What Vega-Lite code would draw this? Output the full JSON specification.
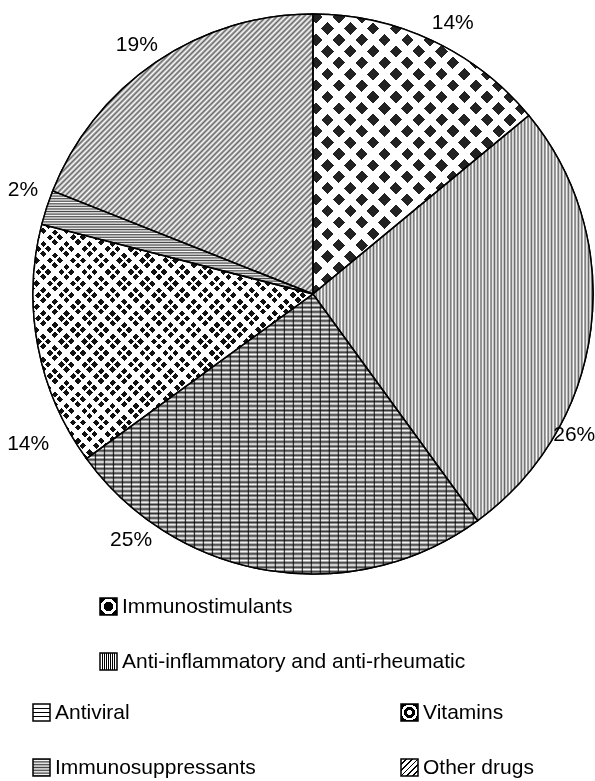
{
"$schema":"https://vega.github.io/schema/vega-lite/v6.json",
"width":564,"height":588,
"autosize":{"type":"none"},
"padding":{"left":31,"top":0,"right":0,"bottom":193},
"background":"white",
"config":{"view":{"stroke":null},"legend":{"symbolType":"square","symbolSize":289,"symbolStrokeColor":"#000","symbolStrokeWidth":1.5,"labelFont":"Liberation Sans","labelFontSize":21,"labelColor":"#000","labelOffset":3,"rowPadding":32,"labelLimit":600,"padding":0}},
"data":{"values":[
{"category":"Immunostimulants","share":0.14},
{"category":"Anti-inflammatory and anti-rheumatic","share":0.26},
{"category":"Antiviral","share":0.25},
{"category":"Vitamins","share":0.14},
{"category":"Immunosuppressants","share":0.02},
{"category":"Other drugs","share":0.19}
]},
"transform":[{"stack":"share","groupby":[],"as":["s0","s1"]}],
"layer":[
{"transform":[{"filter":{"field":"category","oneOf":["Immunostimulants","Anti-inflammatory and anti-rheumatic"]}}],
"mark":{"type":"arc","outerRadius":280,"stroke":"#000","strokeWidth":1.5},
"encoding":{"theta":{"field":"s0","type":"quantitative","stack":null,"scale":{"domain":[0,1]}},"theta2":{"field":"s1"},
"fill":{"field":"category","type":"nominal","scale":{"domain":["Immunostimulants","Anti-inflammatory and anti-rheumatic"],"range":[
{"expr":"{gradient:'radial',x1:0.5,y1:0.5,r1:0,x2:0.5,y2:0.5,r2:0.5,stops:[{offset:0,color:'#000'},{offset:0.58,color:'#000'},{offset:0.58,color:'#fff'},{offset:0.9,color:'#fff'},{offset:0.9,color:'#000'},{offset:1,color:'#000'}]}"},
{"expr":"{gradient:'linear',x1:0,y1:0,x2:1,y2:0,stops:[{offset:0,color:'#fff'},{offset:0.095,color:'#fff'},{offset:0.095,color:'#000'},{offset:0.155,color:'#000'},{offset:0.155,color:'#fff'},{offset:0.22,color:'#fff'},{offset:0.22,color:'#000'},{offset:0.28,color:'#000'},{offset:0.28,color:'#fff'},{offset:0.345,color:'#fff'},{offset:0.345,color:'#000'},{offset:0.405,color:'#000'},{offset:0.405,color:'#fff'},{offset:0.47,color:'#fff'},{offset:0.47,color:'#000'},{offset:0.53,color:'#000'},{offset:0.53,color:'#fff'},{offset:0.595,color:'#fff'},{offset:0.595,color:'#000'},{offset:0.655,color:'#000'},{offset:0.655,color:'#fff'},{offset:0.72,color:'#fff'},{offset:0.72,color:'#000'},{offset:0.78,color:'#000'},{offset:0.78,color:'#fff'},{offset:0.845,color:'#fff'},{offset:0.845,color:'#000'},{offset:0.905,color:'#000'},{offset:0.905,color:'#fff'},{offset:1,color:'#fff'}]}"}
]},"legend":{"title":null,"orient":"none","legendX":67,"legendY":596,"direction":"vertical"}}}},
{"transform":[{"filter":{"field":"category","oneOf":["Antiviral","Vitamins","Immunosuppressants","Other drugs"]}}],
"mark":{"type":"arc","outerRadius":280,"stroke":"#000","strokeWidth":1.5},
"encoding":{"theta":{"field":"s0","type":"quantitative","stack":null,"scale":{"domain":[0,1]}},"theta2":{"field":"s1"},
"fill":{"field":"category","type":"nominal","scale":{"domain":["Antiviral","Immunosuppressants","Vitamins","Other drugs"],"range":[
{"expr":"{gradient:'linear',x1:0,y1:0,x2:0,y2:1,stops:[{offset:0,color:'#fff'},{offset:0.215,color:'#fff'},{offset:0.215,color:'#000'},{offset:0.285,color:'#000'},{offset:0.285,color:'#fff'},{offset:0.465,color:'#fff'},{offset:0.465,color:'#000'},{offset:0.535,color:'#000'},{offset:0.535,color:'#fff'},{offset:0.715,color:'#fff'},{offset:0.715,color:'#000'},{offset:0.785,color:'#000'},{offset:0.785,color:'#fff'},{offset:1,color:'#fff'}]}"},
{"expr":"{gradient:'linear',x1:0,y1:0,x2:0,y2:1,stops:[{offset:0,color:'#444'},{offset:0.0833,color:'#fff'},{offset:0.1667,color:'#444'},{offset:0.25,color:'#fff'},{offset:0.3333,color:'#444'},{offset:0.4167,color:'#fff'},{offset:0.5,color:'#444'},{offset:0.5833,color:'#fff'},{offset:0.6667,color:'#444'},{offset:0.75,color:'#fff'},{offset:0.8333,color:'#444'},{offset:0.9167,color:'#fff'},{offset:1,color:'#444'}]}"},
{"expr":"{gradient:'radial',x1:0.5,y1:0.5,r1:0,x2:0.5,y2:0.5,r2:0.5,stops:[{offset:0,color:'#fff'},{offset:0.3,color:'#fff'},{offset:0.3,color:'#000'},{offset:0.65,color:'#000'},{offset:0.65,color:'#fff'},{offset:0.92,color:'#fff'},{offset:0.92,color:'#000'},{offset:1,color:'#000'}]}"},
{"expr":"{gradient:'linear',x1:0,y1:0,x2:1,y2:1,stops:[{offset:0,color:'#fff'},{offset:0.1417,color:'#fff'},{offset:0.1417,color:'#000'},{offset:0.1917,color:'#000'},{offset:0.1917,color:'#fff'},{offset:0.3083,color:'#fff'},{offset:0.3083,color:'#000'},{offset:0.3583,color:'#000'},{offset:0.3583,color:'#fff'},{offset:0.475,color:'#fff'},{offset:0.475,color:'#000'},{offset:0.525,color:'#000'},{offset:0.525,color:'#fff'},{offset:0.6417,color:'#fff'},{offset:0.6417,color:'#000'},{offset:0.6917,color:'#000'},{offset:0.6917,color:'#fff'},{offset:0.8083,color:'#fff'},{offset:0.8083,color:'#000'},{offset:0.8583,color:'#000'},{offset:0.8583,color:'#fff'},{offset:1,color:'#fff'}]}"}
]},"legend":{"title":null,"orient":"none","legendX":0,"legendY":702,"columns":2,"columnPadding":142}}}},
{"transform":[{"filter":"datum.category==='Anti-inflammatory and anti-rheumatic'"}],
"mark":{"type":"arc","outerRadius":280,"fill":{"gradient":"linear","x1":0,"y1":0,"x2":1,"y2":0,"stops":[{"offset":0,"color":"#666"},{"offset":0.006,"color":"#fff"},{"offset":0.012,"color":"#666"},{"offset":0.018,"color":"#fff"},{"offset":0.024,"color":"#666"},{"offset":0.03,"color":"#fff"},{"offset":0.036,"color":"#666"},{"offset":0.042,"color":"#fff"},{"offset":0.048,"color":"#666"},{"offset":0.054,"color":"#fff"},{"offset":0.06,"color":"#666"},{"offset":0.066,"color":"#fff"},{"offset":0.072,"color":"#666"},{"offset":0.078,"color":"#fff"},{"offset":0.084,"color":"#666"},{"offset":0.09,"color":"#fff"},{"offset":0.096,"color":"#666"},{"offset":0.102,"color":"#fff"},{"offset":0.108,"color":"#666"},{"offset":0.114,"color":"#fff"},{"offset":0.12,"color":"#666"},{"offset":0.126,"color":"#fff"},{"offset":0.132,"color":"#666"},{"offset":0.138,"color":"#fff"},{"offset":0.144,"color":"#666"},{"offset":0.15,"color":"#fff"},{"offset":0.156,"color":"#666"},{"offset":0.162,"color":"#fff"},{"offset":0.168,"color":"#666"},{"offset":0.174,"color":"#fff"},{"offset":0.18,"color":"#666"},{"offset":0.186,"color":"#fff"},{"offset":0.192,"color":"#666"},{"offset":0.198,"color":"#fff"},{"offset":0.204,"color":"#666"},{"offset":0.21,"color":"#fff"},{"offset":0.216,"color":"#666"},{"offset":0.222,"color":"#fff"},{"offset":0.228,"color":"#666"},{"offset":0.234,"color":"#fff"},{"offset":0.24,"color":"#666"},{"offset":0.246,"color":"#fff"},{"offset":0.252,"color":"#666"},{"offset":0.258,"color":"#fff"},{"offset":0.264,"color":"#666"},{"offset":0.27,"color":"#fff"},{"offset":0.276,"color":"#666"},{"offset":0.282,"color":"#fff"},{"offset":0.288,"color":"#666"},{"offset":0.294,"color":"#fff"},{"offset":0.3,"color":"#666"},{"offset":0.306,"color":"#fff"},{"offset":0.312,"color":"#666"},{"offset":0.318,"color":"#fff"},{"offset":0.324,"color":"#666"},{"offset":0.33,"color":"#fff"},{"offset":0.336,"color":"#666"},{"offset":0.342,"color":"#fff"},{"offset":0.348,"color":"#666"},{"offset":0.354,"color":"#fff"},{"offset":0.36,"color":"#666"},{"offset":0.366,"color":"#fff"},{"offset":0.372,"color":"#666"},{"offset":0.378,"color":"#fff"},{"offset":0.384,"color":"#666"},{"offset":0.39,"color":"#fff"},{"offset":0.396,"color":"#666"},{"offset":0.402,"color":"#fff"},{"offset":0.408,"color":"#666"},{"offset":0.414,"color":"#fff"},{"offset":0.42,"color":"#666"},{"offset":0.426,"color":"#fff"},{"offset":0.432,"color":"#666"},{"offset":0.438,"color":"#fff"},{"offset":0.444,"color":"#666"},{"offset":0.45,"color":"#fff"},{"offset":0.456,"color":"#666"},{"offset":0.462,"color":"#fff"},{"offset":0.468,"color":"#666"},{"offset":0.474,"color":"#fff"},{"offset":0.48,"color":"#666"},{"offset":0.486,"color":"#fff"},{"offset":0.492,"color":"#666"},{"offset":0.498,"color":"#fff"},{"offset":0.504,"color":"#666"},{"offset":0.51,"color":"#fff"},{"offset":0.516,"color":"#666"},{"offset":0.522,"color":"#fff"},{"offset":0.528,"color":"#666"},{"offset":0.534,"color":"#fff"},{"offset":0.54,"color":"#666"},{"offset":0.546,"color":"#fff"},{"offset":0.552,"color":"#666"},{"offset":0.558,"color":"#fff"},{"offset":0.564,"color":"#666"},{"offset":0.57,"color":"#fff"},{"offset":0.576,"color":"#666"},{"offset":0.582,"color":"#fff"},{"offset":0.588,"color":"#666"},{"offset":0.594,"color":"#fff"},{"offset":0.6,"color":"#666"},{"offset":0.606,"color":"#fff"},{"offset":0.612,"color":"#666"},{"offset":0.618,"color":"#fff"},{"offset":0.624,"color":"#666"},{"offset":0.63,"color":"#fff"},{"offset":0.636,"color":"#666"},{"offset":0.642,"color":"#fff"},{"offset":0.648,"color":"#666"},{"offset":0.654,"color":"#fff"},{"offset":0.66,"color":"#666"},{"offset":0.666,"color":"#fff"},{"offset":0.672,"color":"#666"},{"offset":0.678,"color":"#fff"},{"offset":0.684,"color":"#666"},{"offset":0.69,"color":"#fff"},{"offset":0.696,"color":"#666"},{"offset":0.702,"color":"#fff"},{"offset":0.708,"color":"#666"},{"offset":0.714,"color":"#fff"},{"offset":0.72,"color":"#666"},{"offset":0.726,"color":"#fff"},{"offset":0.732,"color":"#666"},{"offset":0.738,"color":"#fff"},{"offset":0.744,"color":"#666"},{"offset":0.75,"color":"#fff"},{"offset":0.756,"color":"#666"},{"offset":0.762,"color":"#fff"},{"offset":0.768,"color":"#666"},{"offset":0.774,"color":"#fff"},{"offset":0.78,"color":"#666"},{"offset":0.786,"color":"#fff"},{"offset":0.792,"color":"#666"},{"offset":0.798,"color":"#fff"},{"offset":0.804,"color":"#666"},{"offset":0.81,"color":"#fff"},{"offset":0.816,"color":"#666"},{"offset":0.822,"color":"#fff"},{"offset":0.828,"color":"#666"},{"offset":0.834,"color":"#fff"},{"offset":0.84,"color":"#666"},{"offset":0.846,"color":"#fff"},{"offset":0.852,"color":"#666"},{"offset":0.858,"color":"#fff"},{"offset":0.864,"color":"#666"},{"offset":0.87,"color":"#fff"},{"offset":0.876,"color":"#666"},{"offset":0.882,"color":"#fff"},{"offset":0.888,"color":"#666"},{"offset":0.894,"color":"#fff"},{"offset":0.9,"color":"#666"},{"offset":0.906,"color":"#fff"},{"offset":0.912,"color":"#666"},{"offset":0.918,"color":"#fff"},{"offset":0.924,"color":"#666"},{"offset":0.93,"color":"#fff"},{"offset":0.936,"color":"#666"},{"offset":0.942,"color":"#fff"},{"offset":0.948,"color":"#666"},{"offset":0.954,"color":"#fff"},{"offset":0.96,"color":"#666"},{"offset":0.966,"color":"#fff"},{"offset":0.972,"color":"#666"},{"offset":0.978,"color":"#fff"},{"offset":0.984,"color":"#666"},{"offset":0.99,"color":"#fff"},{"offset":0.996,"color":"#666"}]}},
"encoding":{"theta":{"field":"s0","type":"quantitative","stack":null,"scale":{"domain":[0,1]}},"theta2":{"field":"s1"}}},
{"transform":[{"filter":"datum.category==='Antiviral'"}],
"mark":{"type":"arc","outerRadius":280,"fill":{"gradient":"linear","x1":0,"y1":0,"x2":0,"y2":1,"stops":[{"offset":0,"color":"#333"},{"offset":0.008,"color":"#fff"},{"offset":0.016,"color":"#333"},{"offset":0.024,"color":"#fff"},{"offset":0.032,"color":"#333"},{"offset":0.04,"color":"#fff"},{"offset":0.048,"color":"#333"},{"offset":0.056,"color":"#fff"},{"offset":0.064,"color":"#333"},{"offset":0.072,"color":"#fff"},{"offset":0.08,"color":"#333"},{"offset":0.088,"color":"#fff"},{"offset":0.096,"color":"#333"},{"offset":0.104,"color":"#fff"},{"offset":0.112,"color":"#333"},{"offset":0.12,"color":"#fff"},{"offset":0.128,"color":"#333"},{"offset":0.136,"color":"#fff"},{"offset":0.144,"color":"#333"},{"offset":0.152,"color":"#fff"},{"offset":0.16,"color":"#333"},{"offset":0.168,"color":"#fff"},{"offset":0.176,"color":"#333"},{"offset":0.184,"color":"#fff"},{"offset":0.192,"color":"#333"},{"offset":0.2,"color":"#fff"},{"offset":0.208,"color":"#333"},{"offset":0.216,"color":"#fff"},{"offset":0.224,"color":"#333"},{"offset":0.232,"color":"#fff"},{"offset":0.24,"color":"#333"},{"offset":0.248,"color":"#fff"},{"offset":0.256,"color":"#333"},{"offset":0.264,"color":"#fff"},{"offset":0.272,"color":"#333"},{"offset":0.28,"color":"#fff"},{"offset":0.288,"color":"#333"},{"offset":0.296,"color":"#fff"},{"offset":0.304,"color":"#333"},{"offset":0.312,"color":"#fff"},{"offset":0.32,"color":"#333"},{"offset":0.328,"color":"#fff"},{"offset":0.336,"color":"#333"},{"offset":0.344,"color":"#fff"},{"offset":0.352,"color":"#333"},{"offset":0.36,"color":"#fff"},{"offset":0.368,"color":"#333"},{"offset":0.376,"color":"#fff"},{"offset":0.384,"color":"#333"},{"offset":0.392,"color":"#fff"},{"offset":0.4,"color":"#333"},{"offset":0.408,"color":"#fff"},{"offset":0.416,"color":"#333"},{"offset":0.424,"color":"#fff"},{"offset":0.432,"color":"#333"},{"offset":0.44,"color":"#fff"},{"offset":0.448,"color":"#333"},{"offset":0.456,"color":"#fff"},{"offset":0.464,"color":"#333"},{"offset":0.472,"color":"#fff"},{"offset":0.48,"color":"#333"},{"offset":0.488,"color":"#fff"},{"offset":0.496,"color":"#333"},{"offset":0.504,"color":"#fff"},{"offset":0.512,"color":"#333"},{"offset":0.52,"color":"#fff"},{"offset":0.528,"color":"#333"},{"offset":0.536,"color":"#fff"},{"offset":0.544,"color":"#333"},{"offset":0.552,"color":"#fff"},{"offset":0.56,"color":"#333"},{"offset":0.568,"color":"#fff"},{"offset":0.576,"color":"#333"},{"offset":0.584,"color":"#fff"},{"offset":0.592,"color":"#333"},{"offset":0.6,"color":"#fff"},{"offset":0.608,"color":"#333"},{"offset":0.616,"color":"#fff"},{"offset":0.624,"color":"#333"},{"offset":0.632,"color":"#fff"},{"offset":0.64,"color":"#333"},{"offset":0.648,"color":"#fff"},{"offset":0.656,"color":"#333"},{"offset":0.664,"color":"#fff"},{"offset":0.672,"color":"#333"},{"offset":0.68,"color":"#fff"},{"offset":0.688,"color":"#333"},{"offset":0.696,"color":"#fff"},{"offset":0.704,"color":"#333"},{"offset":0.712,"color":"#fff"},{"offset":0.72,"color":"#333"},{"offset":0.728,"color":"#fff"},{"offset":0.736,"color":"#333"},{"offset":0.744,"color":"#fff"},{"offset":0.752,"color":"#333"},{"offset":0.76,"color":"#fff"},{"offset":0.768,"color":"#333"},{"offset":0.776,"color":"#fff"},{"offset":0.784,"color":"#333"},{"offset":0.792,"color":"#fff"},{"offset":0.8,"color":"#333"},{"offset":0.808,"color":"#fff"},{"offset":0.816,"color":"#333"},{"offset":0.824,"color":"#fff"},{"offset":0.832,"color":"#333"},{"offset":0.84,"color":"#fff"},{"offset":0.848,"color":"#333"},{"offset":0.856,"color":"#fff"},{"offset":0.864,"color":"#333"},{"offset":0.872,"color":"#fff"},{"offset":0.88,"color":"#333"},{"offset":0.888,"color":"#fff"},{"offset":0.896,"color":"#333"},{"offset":0.904,"color":"#fff"},{"offset":0.912,"color":"#333"},{"offset":0.92,"color":"#fff"},{"offset":0.928,"color":"#333"},{"offset":0.936,"color":"#fff"},{"offset":0.944,"color":"#333"},{"offset":0.952,"color":"#fff"},{"offset":0.96,"color":"#333"},{"offset":0.968,"color":"#fff"},{"offset":0.976,"color":"#333"},{"offset":0.984,"color":"#fff"},{"offset":0.992,"color":"#333"},{"offset":1,"color":"#fff"}]}},
"encoding":{"theta":{"field":"s0","type":"quantitative","stack":null,"scale":{"domain":[0,1]}},"theta2":{"field":"s1"}}},
{"transform":[{"filter":"datum.category==='Antiviral'"}],
"mark":{"type":"arc","outerRadius":280,"blend":"multiply","fill":{"gradient":"linear","x1":0,"y1":0,"x2":1,"y2":0,"stops":[{"offset":0,"color":"#333"},{"offset":0.003,"color":"#fff"},{"offset":0.02,"color":"#fff"},{"offset":0.023,"color":"#333"},{"offset":0.026,"color":"#fff"},{"offset":0.043,"color":"#fff"},{"offset":0.046,"color":"#333"},{"offset":0.049,"color":"#fff"},{"offset":0.066,"color":"#fff"},{"offset":0.069,"color":"#333"},{"offset":0.072,"color":"#fff"},{"offset":0.089,"color":"#fff"},{"offset":0.092,"color":"#333"},{"offset":0.095,"color":"#fff"},{"offset":0.112,"color":"#fff"},{"offset":0.115,"color":"#333"},{"offset":0.118,"color":"#fff"},{"offset":0.135,"color":"#fff"},{"offset":0.138,"color":"#333"},{"offset":0.141,"color":"#fff"},{"offset":0.158,"color":"#fff"},{"offset":0.161,"color":"#333"},{"offset":0.164,"color":"#fff"},{"offset":0.181,"color":"#fff"},{"offset":0.184,"color":"#333"},{"offset":0.187,"color":"#fff"},{"offset":0.204,"color":"#fff"},{"offset":0.207,"color":"#333"},{"offset":0.21,"color":"#fff"},{"offset":0.227,"color":"#fff"},{"offset":0.23,"color":"#333"},{"offset":0.233,"color":"#fff"},{"offset":0.25,"color":"#fff"},{"offset":0.253,"color":"#333"},{"offset":0.256,"color":"#fff"},{"offset":0.273,"color":"#fff"},{"offset":0.276,"color":"#333"},{"offset":0.279,"color":"#fff"},{"offset":0.296,"color":"#fff"},{"offset":0.299,"color":"#333"},{"offset":0.302,"color":"#fff"},{"offset":0.319,"color":"#fff"},{"offset":0.322,"color":"#333"},{"offset":0.325,"color":"#fff"},{"offset":0.342,"color":"#fff"},{"offset":0.345,"color":"#333"},{"offset":0.348,"color":"#fff"},{"offset":0.365,"color":"#fff"},{"offset":0.368,"color":"#333"},{"offset":0.371,"color":"#fff"},{"offset":0.388,"color":"#fff"},{"offset":0.391,"color":"#333"},{"offset":0.394,"color":"#fff"},{"offset":0.411,"color":"#fff"},{"offset":0.414,"color":"#333"},{"offset":0.417,"color":"#fff"},{"offset":0.434,"color":"#fff"},{"offset":0.437,"color":"#333"},{"offset":0.44,"color":"#fff"},{"offset":0.457,"color":"#fff"},{"offset":0.46,"color":"#333"},{"offset":0.463,"color":"#fff"},{"offset":0.48,"color":"#fff"},{"offset":0.483,"color":"#333"},{"offset":0.486,"color":"#fff"},{"offset":0.503,"color":"#fff"},{"offset":0.506,"color":"#333"},{"offset":0.509,"color":"#fff"},{"offset":0.526,"color":"#fff"},{"offset":0.529,"color":"#333"},{"offset":0.532,"color":"#fff"},{"offset":0.549,"color":"#fff"},{"offset":0.552,"color":"#333"},{"offset":0.555,"color":"#fff"},{"offset":0.572,"color":"#fff"},{"offset":0.575,"color":"#333"},{"offset":0.578,"color":"#fff"},{"offset":0.595,"color":"#fff"},{"offset":0.598,"color":"#333"},{"offset":0.601,"color":"#fff"},{"offset":0.618,"color":"#fff"},{"offset":0.621,"color":"#333"},{"offset":0.624,"color":"#fff"},{"offset":0.641,"color":"#fff"},{"offset":0.644,"color":"#333"},{"offset":0.647,"color":"#fff"},{"offset":0.664,"color":"#fff"},{"offset":0.667,"color":"#333"},{"offset":0.67,"color":"#fff"},{"offset":0.687,"color":"#fff"},{"offset":0.69,"color":"#333"},{"offset":0.693,"color":"#fff"},{"offset":0.71,"color":"#fff"},{"offset":0.713,"color":"#333"},{"offset":0.716,"color":"#fff"},{"offset":0.733,"color":"#fff"},{"offset":0.736,"color":"#333"},{"offset":0.739,"color":"#fff"},{"offset":0.756,"color":"#fff"},{"offset":0.759,"color":"#333"},{"offset":0.762,"color":"#fff"},{"offset":0.779,"color":"#fff"},{"offset":0.782,"color":"#333"},{"offset":0.785,"color":"#fff"},{"offset":0.802,"color":"#fff"},{"offset":0.805,"color":"#333"},{"offset":0.808,"color":"#fff"},{"offset":0.825,"color":"#fff"},{"offset":0.828,"color":"#333"},{"offset":0.831,"color":"#fff"},{"offset":0.848,"color":"#fff"},{"offset":0.851,"color":"#333"},{"offset":0.854,"color":"#fff"},{"offset":0.871,"color":"#fff"},{"offset":0.874,"color":"#333"},{"offset":0.877,"color":"#fff"},{"offset":0.894,"color":"#fff"},{"offset":0.897,"color":"#333"},{"offset":0.9,"color":"#fff"},{"offset":0.917,"color":"#fff"},{"offset":0.92,"color":"#333"},{"offset":0.923,"color":"#fff"},{"offset":0.94,"color":"#fff"},{"offset":0.943,"color":"#333"},{"offset":0.946,"color":"#fff"},{"offset":0.963,"color":"#fff"},{"offset":0.966,"color":"#333"},{"offset":0.969,"color":"#fff"},{"offset":0.986,"color":"#fff"},{"offset":0.989,"color":"#333"},{"offset":0.992,"color":"#fff"},{"offset":1,"color":"#fff"}]}},
"encoding":{"theta":{"field":"s0","type":"quantitative","stack":null,"scale":{"domain":[0,1]}},"theta2":{"field":"s1"}}},
{"transform":[{"filter":"datum.category==='Immunosuppressants'"}],
"mark":{"type":"arc","outerRadius":280,"fill":{"gradient":"linear","x1":0,"y1":0,"x2":0,"y2":1,"stops":[{"offset":0,"color":"#444"},{"offset":0.0125,"color":"#fff"},{"offset":0.025,"color":"#444"},{"offset":0.0375,"color":"#fff"},{"offset":0.05,"color":"#444"},{"offset":0.0625,"color":"#fff"},{"offset":0.075,"color":"#444"},{"offset":0.0875,"color":"#fff"},{"offset":0.1,"color":"#444"},{"offset":0.1125,"color":"#fff"},{"offset":0.125,"color":"#444"},{"offset":0.1375,"color":"#fff"},{"offset":0.15,"color":"#444"},{"offset":0.1625,"color":"#fff"},{"offset":0.175,"color":"#444"},{"offset":0.1875,"color":"#fff"},{"offset":0.2,"color":"#444"},{"offset":0.2125,"color":"#fff"},{"offset":0.225,"color":"#444"},{"offset":0.2375,"color":"#fff"},{"offset":0.25,"color":"#444"},{"offset":0.2625,"color":"#fff"},{"offset":0.275,"color":"#444"},{"offset":0.2875,"color":"#fff"},{"offset":0.3,"color":"#444"},{"offset":0.3125,"color":"#fff"},{"offset":0.325,"color":"#444"},{"offset":0.3375,"color":"#fff"},{"offset":0.35,"color":"#444"},{"offset":0.3625,"color":"#fff"},{"offset":0.375,"color":"#444"},{"offset":0.3875,"color":"#fff"},{"offset":0.4,"color":"#444"},{"offset":0.4125,"color":"#fff"},{"offset":0.425,"color":"#444"},{"offset":0.4375,"color":"#fff"},{"offset":0.45,"color":"#444"},{"offset":0.4625,"color":"#fff"},{"offset":0.475,"color":"#444"},{"offset":0.4875,"color":"#fff"},{"offset":0.5,"color":"#444"},{"offset":0.5125,"color":"#fff"},{"offset":0.525,"color":"#444"},{"offset":0.5375,"color":"#fff"},{"offset":0.55,"color":"#444"},{"offset":0.5625,"color":"#fff"},{"offset":0.575,"color":"#444"},{"offset":0.5875,"color":"#fff"},{"offset":0.6,"color":"#444"},{"offset":0.6125,"color":"#fff"},{"offset":0.625,"color":"#444"},{"offset":0.6375,"color":"#fff"},{"offset":0.65,"color":"#444"},{"offset":0.6625,"color":"#fff"},{"offset":0.675,"color":"#444"},{"offset":0.6875,"color":"#fff"},{"offset":0.7,"color":"#444"},{"offset":0.7125,"color":"#fff"},{"offset":0.725,"color":"#444"},{"offset":0.7375,"color":"#fff"},{"offset":0.75,"color":"#444"},{"offset":0.7625,"color":"#fff"},{"offset":0.775,"color":"#444"},{"offset":0.7875,"color":"#fff"},{"offset":0.8,"color":"#444"},{"offset":0.8125,"color":"#fff"},{"offset":0.825,"color":"#444"},{"offset":0.8375,"color":"#fff"},{"offset":0.85,"color":"#444"},{"offset":0.8625,"color":"#fff"},{"offset":0.875,"color":"#444"},{"offset":0.8875,"color":"#fff"},{"offset":0.9,"color":"#444"},{"offset":0.9125,"color":"#fff"},{"offset":0.925,"color":"#444"},{"offset":0.9375,"color":"#fff"},{"offset":0.95,"color":"#444"},{"offset":0.9625,"color":"#fff"},{"offset":0.975,"color":"#444"},{"offset":0.9875,"color":"#fff"},{"offset":1,"color":"#444"}]}},
"encoding":{"theta":{"field":"s0","type":"quantitative","stack":null,"scale":{"domain":[0,1]}},"theta2":{"field":"s1"}}},
{"transform":[{"filter":"datum.category==='Other drugs'"}],
"mark":{"type":"arc","outerRadius":280,"fill":{"gradient":"linear","x1":0,"y1":0,"x2":0.962,"y2":1.035,"stops":[{"offset":0,"color":"#666"},{"offset":0.005,"color":"#fff"},{"offset":0.01,"color":"#666"},{"offset":0.015,"color":"#fff"},{"offset":0.02,"color":"#666"},{"offset":0.025,"color":"#fff"},{"offset":0.03,"color":"#666"},{"offset":0.035,"color":"#fff"},{"offset":0.04,"color":"#666"},{"offset":0.045,"color":"#fff"},{"offset":0.05,"color":"#666"},{"offset":0.055,"color":"#fff"},{"offset":0.06,"color":"#666"},{"offset":0.065,"color":"#fff"},{"offset":0.07,"color":"#666"},{"offset":0.075,"color":"#fff"},{"offset":0.08,"color":"#666"},{"offset":0.085,"color":"#fff"},{"offset":0.09,"color":"#666"},{"offset":0.095,"color":"#fff"},{"offset":0.1,"color":"#666"},{"offset":0.105,"color":"#fff"},{"offset":0.11,"color":"#666"},{"offset":0.115,"color":"#fff"},{"offset":0.12,"color":"#666"},{"offset":0.125,"color":"#fff"},{"offset":0.13,"color":"#666"},{"offset":0.135,"color":"#fff"},{"offset":0.14,"color":"#666"},{"offset":0.145,"color":"#fff"},{"offset":0.15,"color":"#666"},{"offset":0.155,"color":"#fff"},{"offset":0.16,"color":"#666"},{"offset":0.165,"color":"#fff"},{"offset":0.17,"color":"#666"},{"offset":0.175,"color":"#fff"},{"offset":0.18,"color":"#666"},{"offset":0.185,"color":"#fff"},{"offset":0.19,"color":"#666"},{"offset":0.195,"color":"#fff"},{"offset":0.2,"color":"#666"},{"offset":0.205,"color":"#fff"},{"offset":0.21,"color":"#666"},{"offset":0.215,"color":"#fff"},{"offset":0.22,"color":"#666"},{"offset":0.225,"color":"#fff"},{"offset":0.23,"color":"#666"},{"offset":0.235,"color":"#fff"},{"offset":0.24,"color":"#666"},{"offset":0.245,"color":"#fff"},{"offset":0.25,"color":"#666"},{"offset":0.255,"color":"#fff"},{"offset":0.26,"color":"#666"},{"offset":0.265,"color":"#fff"},{"offset":0.27,"color":"#666"},{"offset":0.275,"color":"#fff"},{"offset":0.28,"color":"#666"},{"offset":0.285,"color":"#fff"},{"offset":0.29,"color":"#666"},{"offset":0.295,"color":"#fff"},{"offset":0.3,"color":"#666"},{"offset":0.305,"color":"#fff"},{"offset":0.31,"color":"#666"},{"offset":0.315,"color":"#fff"},{"offset":0.32,"color":"#666"},{"offset":0.325,"color":"#fff"},{"offset":0.33,"color":"#666"},{"offset":0.335,"color":"#fff"},{"offset":0.34,"color":"#666"},{"offset":0.345,"color":"#fff"},{"offset":0.35,"color":"#666"},{"offset":0.355,"color":"#fff"},{"offset":0.36,"color":"#666"},{"offset":0.365,"color":"#fff"},{"offset":0.37,"color":"#666"},{"offset":0.375,"color":"#fff"},{"offset":0.38,"color":"#666"},{"offset":0.385,"color":"#fff"},{"offset":0.39,"color":"#666"},{"offset":0.395,"color":"#fff"},{"offset":0.4,"color":"#666"},{"offset":0.405,"color":"#fff"},{"offset":0.41,"color":"#666"},{"offset":0.415,"color":"#fff"},{"offset":0.42,"color":"#666"},{"offset":0.425,"color":"#fff"},{"offset":0.43,"color":"#666"},{"offset":0.435,"color":"#fff"},{"offset":0.44,"color":"#666"},{"offset":0.445,"color":"#fff"},{"offset":0.45,"color":"#666"},{"offset":0.455,"color":"#fff"},{"offset":0.46,"color":"#666"},{"offset":0.465,"color":"#fff"},{"offset":0.47,"color":"#666"},{"offset":0.475,"color":"#fff"},{"offset":0.48,"color":"#666"},{"offset":0.485,"color":"#fff"},{"offset":0.49,"color":"#666"},{"offset":0.495,"color":"#fff"},{"offset":0.5,"color":"#666"},{"offset":0.505,"color":"#fff"},{"offset":0.51,"color":"#666"},{"offset":0.515,"color":"#fff"},{"offset":0.52,"color":"#666"},{"offset":0.525,"color":"#fff"},{"offset":0.53,"color":"#666"},{"offset":0.535,"color":"#fff"},{"offset":0.54,"color":"#666"},{"offset":0.545,"color":"#fff"},{"offset":0.55,"color":"#666"},{"offset":0.555,"color":"#fff"},{"offset":0.56,"color":"#666"},{"offset":0.565,"color":"#fff"},{"offset":0.57,"color":"#666"},{"offset":0.575,"color":"#fff"},{"offset":0.58,"color":"#666"},{"offset":0.585,"color":"#fff"},{"offset":0.59,"color":"#666"},{"offset":0.595,"color":"#fff"},{"offset":0.6,"color":"#666"},{"offset":0.605,"color":"#fff"},{"offset":0.61,"color":"#666"},{"offset":0.615,"color":"#fff"},{"offset":0.62,"color":"#666"},{"offset":0.625,"color":"#fff"},{"offset":0.63,"color":"#666"},{"offset":0.635,"color":"#fff"},{"offset":0.64,"color":"#666"},{"offset":0.645,"color":"#fff"},{"offset":0.65,"color":"#666"},{"offset":0.655,"color":"#fff"},{"offset":0.66,"color":"#666"},{"offset":0.665,"color":"#fff"},{"offset":0.67,"color":"#666"},{"offset":0.675,"color":"#fff"},{"offset":0.68,"color":"#666"},{"offset":0.685,"color":"#fff"},{"offset":0.69,"color":"#666"},{"offset":0.695,"color":"#fff"},{"offset":0.7,"color":"#666"},{"offset":0.705,"color":"#fff"},{"offset":0.71,"color":"#666"},{"offset":0.715,"color":"#fff"},{"offset":0.72,"color":"#666"},{"offset":0.725,"color":"#fff"},{"offset":0.73,"color":"#666"},{"offset":0.735,"color":"#fff"},{"offset":0.74,"color":"#666"},{"offset":0.745,"color":"#fff"},{"offset":0.75,"color":"#666"},{"offset":0.755,"color":"#fff"},{"offset":0.76,"color":"#666"},{"offset":0.765,"color":"#fff"},{"offset":0.77,"color":"#666"},{"offset":0.775,"color":"#fff"},{"offset":0.78,"color":"#666"},{"offset":0.785,"color":"#fff"},{"offset":0.79,"color":"#666"},{"offset":0.795,"color":"#fff"},{"offset":0.8,"color":"#666"},{"offset":0.805,"color":"#fff"},{"offset":0.81,"color":"#666"},{"offset":0.815,"color":"#fff"},{"offset":0.82,"color":"#666"},{"offset":0.825,"color":"#fff"},{"offset":0.83,"color":"#666"},{"offset":0.835,"color":"#fff"},{"offset":0.84,"color":"#666"},{"offset":0.845,"color":"#fff"},{"offset":0.85,"color":"#666"},{"offset":0.855,"color":"#fff"},{"offset":0.86,"color":"#666"},{"offset":0.865,"color":"#fff"},{"offset":0.87,"color":"#666"},{"offset":0.875,"color":"#fff"},{"offset":0.88,"color":"#666"},{"offset":0.885,"color":"#fff"},{"offset":0.89,"color":"#666"},{"offset":0.895,"color":"#fff"},{"offset":0.9,"color":"#666"},{"offset":0.905,"color":"#fff"},{"offset":0.91,"color":"#666"},{"offset":0.915,"color":"#fff"},{"offset":0.92,"color":"#666"},{"offset":0.925,"color":"#fff"},{"offset":0.93,"color":"#666"},{"offset":0.935,"color":"#fff"},{"offset":0.94,"color":"#666"},{"offset":0.945,"color":"#fff"},{"offset":0.95,"color":"#666"},{"offset":0.955,"color":"#fff"},{"offset":0.96,"color":"#666"},{"offset":0.965,"color":"#fff"},{"offset":0.97,"color":"#666"},{"offset":0.975,"color":"#fff"},{"offset":0.98,"color":"#666"},{"offset":0.985,"color":"#fff"},{"offset":0.99,"color":"#666"},{"offset":0.995,"color":"#fff"},{"offset":1,"color":"#666"}]}},
"encoding":{"theta":{"field":"s0","type":"quantitative","stack":null,"scale":{"domain":[0,1]}},"theta2":{"field":"s1"}}},
{"transform":[{"filter":"datum.category==='Immunostimulants'"}],
"mark":{"type":"arc","outerRadius":280,"fill":{"gradient":"linear","x1":0,"y1":0,"x2":0.856,"y2":1.111,"stops":[{"offset":0,"color":"#222"},{"offset":0.0253,"color":"#222"},{"offset":0.0253,"color":"#fff"},{"offset":0.046,"color":"#fff"},{"offset":0.046,"color":"#222"},{"offset":0.0713,"color":"#222"},{"offset":0.0713,"color":"#fff"},{"offset":0.092,"color":"#fff"},{"offset":0.092,"color":"#222"},{"offset":0.1173,"color":"#222"},{"offset":0.1173,"color":"#fff"},{"offset":0.138,"color":"#fff"},{"offset":0.138,"color":"#222"},{"offset":0.1633,"color":"#222"},{"offset":0.1633,"color":"#fff"},{"offset":0.184,"color":"#fff"},{"offset":0.184,"color":"#222"},{"offset":0.2093,"color":"#222"},{"offset":0.2093,"color":"#fff"},{"offset":0.23,"color":"#fff"},{"offset":0.23,"color":"#222"},{"offset":0.2553,"color":"#222"},{"offset":0.2553,"color":"#fff"},{"offset":0.276,"color":"#fff"},{"offset":0.276,"color":"#222"},{"offset":0.3013,"color":"#222"},{"offset":0.3013,"color":"#fff"},{"offset":0.322,"color":"#fff"},{"offset":0.322,"color":"#222"},{"offset":0.3473,"color":"#222"},{"offset":0.3473,"color":"#fff"},{"offset":0.368,"color":"#fff"},{"offset":0.368,"color":"#222"},{"offset":0.3933,"color":"#222"},{"offset":0.3933,"color":"#fff"},{"offset":0.414,"color":"#fff"},{"offset":0.414,"color":"#222"},{"offset":0.4393,"color":"#222"},{"offset":0.4393,"color":"#fff"},{"offset":0.46,"color":"#fff"},{"offset":0.46,"color":"#222"},{"offset":0.4853,"color":"#222"},{"offset":0.4853,"color":"#fff"},{"offset":0.506,"color":"#fff"},{"offset":0.506,"color":"#222"},{"offset":0.5313,"color":"#222"},{"offset":0.5313,"color":"#fff"},{"offset":0.552,"color":"#fff"},{"offset":0.552,"color":"#222"},{"offset":0.5773,"color":"#222"},{"offset":0.5773,"color":"#fff"},{"offset":0.598,"color":"#fff"},{"offset":0.598,"color":"#222"},{"offset":0.6233,"color":"#222"},{"offset":0.6233,"color":"#fff"},{"offset":0.644,"color":"#fff"},{"offset":0.644,"color":"#222"},{"offset":0.6693,"color":"#222"},{"offset":0.6693,"color":"#fff"},{"offset":0.69,"color":"#fff"},{"offset":0.69,"color":"#222"},{"offset":0.7153,"color":"#222"},{"offset":0.7153,"color":"#fff"},{"offset":0.736,"color":"#fff"},{"offset":0.736,"color":"#222"},{"offset":0.7613,"color":"#222"},{"offset":0.7613,"color":"#fff"},{"offset":0.782,"color":"#fff"},{"offset":0.782,"color":"#222"},{"offset":0.8073,"color":"#222"},{"offset":0.8073,"color":"#fff"},{"offset":0.828,"color":"#fff"},{"offset":0.828,"color":"#222"},{"offset":0.8533,"color":"#222"},{"offset":0.8533,"color":"#fff"},{"offset":0.874,"color":"#fff"},{"offset":0.874,"color":"#222"},{"offset":0.8993,"color":"#222"},{"offset":0.8993,"color":"#fff"},{"offset":0.92,"color":"#fff"},{"offset":0.92,"color":"#222"},{"offset":0.9453,"color":"#222"},{"offset":0.9453,"color":"#fff"},{"offset":0.966,"color":"#fff"},{"offset":0.966,"color":"#222"},{"offset":0.9913,"color":"#222"},{"offset":0.9913,"color":"#fff"},{"offset":1,"color":"#fff"}]}},
"encoding":{"theta":{"field":"s0","type":"quantitative","stack":null,"scale":{"domain":[0,1]}},"theta2":{"field":"s1"}}},
{"transform":[{"filter":"datum.category==='Immunostimulants'"}],
"mark":{"type":"arc","outerRadius":280,"blend":"lighten","fill":{"gradient":"linear","x1":0,"y1":1,"x2":0.856,"y2":-0.111,"stops":[{"offset":0,"color":"#222"},{"offset":0.0253,"color":"#222"},{"offset":0.0253,"color":"#fff"},{"offset":0.046,"color":"#fff"},{"offset":0.046,"color":"#222"},{"offset":0.0713,"color":"#222"},{"offset":0.0713,"color":"#fff"},{"offset":0.092,"color":"#fff"},{"offset":0.092,"color":"#222"},{"offset":0.1173,"color":"#222"},{"offset":0.1173,"color":"#fff"},{"offset":0.138,"color":"#fff"},{"offset":0.138,"color":"#222"},{"offset":0.1633,"color":"#222"},{"offset":0.1633,"color":"#fff"},{"offset":0.184,"color":"#fff"},{"offset":0.184,"color":"#222"},{"offset":0.2093,"color":"#222"},{"offset":0.2093,"color":"#fff"},{"offset":0.23,"color":"#fff"},{"offset":0.23,"color":"#222"},{"offset":0.2553,"color":"#222"},{"offset":0.2553,"color":"#fff"},{"offset":0.276,"color":"#fff"},{"offset":0.276,"color":"#222"},{"offset":0.3013,"color":"#222"},{"offset":0.3013,"color":"#fff"},{"offset":0.322,"color":"#fff"},{"offset":0.322,"color":"#222"},{"offset":0.3473,"color":"#222"},{"offset":0.3473,"color":"#fff"},{"offset":0.368,"color":"#fff"},{"offset":0.368,"color":"#222"},{"offset":0.3933,"color":"#222"},{"offset":0.3933,"color":"#fff"},{"offset":0.414,"color":"#fff"},{"offset":0.414,"color":"#222"},{"offset":0.4393,"color":"#222"},{"offset":0.4393,"color":"#fff"},{"offset":0.46,"color":"#fff"},{"offset":0.46,"color":"#222"},{"offset":0.4853,"color":"#222"},{"offset":0.4853,"color":"#fff"},{"offset":0.506,"color":"#fff"},{"offset":0.506,"color":"#222"},{"offset":0.5313,"color":"#222"},{"offset":0.5313,"color":"#fff"},{"offset":0.552,"color":"#fff"},{"offset":0.552,"color":"#222"},{"offset":0.5773,"color":"#222"},{"offset":0.5773,"color":"#fff"},{"offset":0.598,"color":"#fff"},{"offset":0.598,"color":"#222"},{"offset":0.6233,"color":"#222"},{"offset":0.6233,"color":"#fff"},{"offset":0.644,"color":"#fff"},{"offset":0.644,"color":"#222"},{"offset":0.6693,"color":"#222"},{"offset":0.6693,"color":"#fff"},{"offset":0.69,"color":"#fff"},{"offset":0.69,"color":"#222"},{"offset":0.7153,"color":"#222"},{"offset":0.7153,"color":"#fff"},{"offset":0.736,"color":"#fff"},{"offset":0.736,"color":"#222"},{"offset":0.7613,"color":"#222"},{"offset":0.7613,"color":"#fff"},{"offset":0.782,"color":"#fff"},{"offset":0.782,"color":"#222"},{"offset":0.8073,"color":"#222"},{"offset":0.8073,"color":"#fff"},{"offset":0.828,"color":"#fff"},{"offset":0.828,"color":"#222"},{"offset":0.8533,"color":"#222"},{"offset":0.8533,"color":"#fff"},{"offset":0.874,"color":"#fff"},{"offset":0.874,"color":"#222"},{"offset":0.8993,"color":"#222"},{"offset":0.8993,"color":"#fff"},{"offset":0.92,"color":"#fff"},{"offset":0.92,"color":"#222"},{"offset":0.9453,"color":"#222"},{"offset":0.9453,"color":"#fff"},{"offset":0.966,"color":"#fff"},{"offset":0.966,"color":"#222"},{"offset":0.9913,"color":"#222"},{"offset":0.9913,"color":"#fff"},{"offset":1,"color":"#fff"}]}},
"encoding":{"theta":{"field":"s0","type":"quantitative","stack":null,"scale":{"domain":[0,1]}},"theta2":{"field":"s1"}}},
{"transform":[{"filter":"datum.category==='Vitamins'"}],
"mark":{"type":"arc","outerRadius":280,"fill":{"gradient":"linear","x1":0,"y1":0,"x2":1.081,"y2":0.904,"stops":[{"offset":0,"color":"#fff"},{"offset":0.0068,"color":"#fff"},{"offset":0.0068,"color":"#111"},{"offset":0.0194,"color":"#111"},{"offset":0.0194,"color":"#fff"},{"offset":0.0257,"color":"#fff"},{"offset":0.0257,"color":"#111"},{"offset":0.0383,"color":"#111"},{"offset":0.0383,"color":"#fff"},{"offset":0.0518,"color":"#fff"},{"offset":0.0518,"color":"#111"},{"offset":0.0644,"color":"#111"},{"offset":0.0644,"color":"#fff"},{"offset":0.0707,"color":"#fff"},{"offset":0.0707,"color":"#111"},{"offset":0.0833,"color":"#111"},{"offset":0.0833,"color":"#fff"},{"offset":0.0968,"color":"#fff"},{"offset":0.0968,"color":"#111"},{"offset":0.1094,"color":"#111"},{"offset":0.1094,"color":"#fff"},{"offset":0.1157,"color":"#fff"},{"offset":0.1157,"color":"#111"},{"offset":0.1283,"color":"#111"},{"offset":0.1283,"color":"#fff"},{"offset":0.1418,"color":"#fff"},{"offset":0.1418,"color":"#111"},{"offset":0.1544,"color":"#111"},{"offset":0.1544,"color":"#fff"},{"offset":0.1607,"color":"#fff"},{"offset":0.1607,"color":"#111"},{"offset":0.1733,"color":"#111"},{"offset":0.1733,"color":"#fff"},{"offset":0.1868,"color":"#fff"},{"offset":0.1868,"color":"#111"},{"offset":0.1994,"color":"#111"},{"offset":0.1994,"color":"#fff"},{"offset":0.2057,"color":"#fff"},{"offset":0.2057,"color":"#111"},{"offset":0.2183,"color":"#111"},{"offset":0.2183,"color":"#fff"},{"offset":0.2318,"color":"#fff"},{"offset":0.2318,"color":"#111"},{"offset":0.2444,"color":"#111"},{"offset":0.2444,"color":"#fff"},{"offset":0.2507,"color":"#fff"},{"offset":0.2507,"color":"#111"},{"offset":0.2633,"color":"#111"},{"offset":0.2633,"color":"#fff"},{"offset":0.2768,"color":"#fff"},{"offset":0.2768,"color":"#111"},{"offset":0.2894,"color":"#111"},{"offset":0.2894,"color":"#fff"},{"offset":0.2957,"color":"#fff"},{"offset":0.2957,"color":"#111"},{"offset":0.3083,"color":"#111"},{"offset":0.3083,"color":"#fff"},{"offset":0.3218,"color":"#fff"},{"offset":0.3218,"color":"#111"},{"offset":0.3344,"color":"#111"},{"offset":0.3344,"color":"#fff"},{"offset":0.3407,"color":"#fff"},{"offset":0.3407,"color":"#111"},{"offset":0.3533,"color":"#111"},{"offset":0.3533,"color":"#fff"},{"offset":0.3668,"color":"#fff"},{"offset":0.3668,"color":"#111"},{"offset":0.3794,"color":"#111"},{"offset":0.3794,"color":"#fff"},{"offset":0.3857,"color":"#fff"},{"offset":0.3857,"color":"#111"},{"offset":0.3983,"color":"#111"},{"offset":0.3983,"color":"#fff"},{"offset":0.4118,"color":"#fff"},{"offset":0.4118,"color":"#111"},{"offset":0.4244,"color":"#111"},{"offset":0.4244,"color":"#fff"},{"offset":0.4307,"color":"#fff"},{"offset":0.4307,"color":"#111"},{"offset":0.4433,"color":"#111"},{"offset":0.4433,"color":"#fff"},{"offset":0.4568,"color":"#fff"},{"offset":0.4568,"color":"#111"},{"offset":0.4694,"color":"#111"},{"offset":0.4694,"color":"#fff"},{"offset":0.4757,"color":"#fff"},{"offset":0.4757,"color":"#111"},{"offset":0.4883,"color":"#111"},{"offset":0.4883,"color":"#fff"},{"offset":0.5018,"color":"#fff"},{"offset":0.5018,"color":"#111"},{"offset":0.5144,"color":"#111"},{"offset":0.5144,"color":"#fff"},{"offset":0.5207,"color":"#fff"},{"offset":0.5207,"color":"#111"},{"offset":0.5333,"color":"#111"},{"offset":0.5333,"color":"#fff"},{"offset":0.5468,"color":"#fff"},{"offset":0.5468,"color":"#111"},{"offset":0.5594,"color":"#111"},{"offset":0.5594,"color":"#fff"},{"offset":0.5657,"color":"#fff"},{"offset":0.5657,"color":"#111"},{"offset":0.5783,"color":"#111"},{"offset":0.5783,"color":"#fff"},{"offset":0.5918,"color":"#fff"},{"offset":0.5918,"color":"#111"},{"offset":0.6044,"color":"#111"},{"offset":0.6044,"color":"#fff"},{"offset":0.6107,"color":"#fff"},{"offset":0.6107,"color":"#111"},{"offset":0.6233,"color":"#111"},{"offset":0.6233,"color":"#fff"},{"offset":0.6368,"color":"#fff"},{"offset":0.6368,"color":"#111"},{"offset":0.6494,"color":"#111"},{"offset":0.6494,"color":"#fff"},{"offset":0.6557,"color":"#fff"},{"offset":0.6557,"color":"#111"},{"offset":0.6683,"color":"#111"},{"offset":0.6683,"color":"#fff"},{"offset":0.6818,"color":"#fff"},{"offset":0.6818,"color":"#111"},{"offset":0.6944,"color":"#111"},{"offset":0.6944,"color":"#fff"},{"offset":0.7007,"color":"#fff"},{"offset":0.7007,"color":"#111"},{"offset":0.7133,"color":"#111"},{"offset":0.7133,"color":"#fff"},{"offset":0.7268,"color":"#fff"},{"offset":0.7268,"color":"#111"},{"offset":0.7394,"color":"#111"},{"offset":0.7394,"color":"#fff"},{"offset":0.7457,"color":"#fff"},{"offset":0.7457,"color":"#111"},{"offset":0.7583,"color":"#111"},{"offset":0.7583,"color":"#fff"},{"offset":0.7718,"color":"#fff"},{"offset":0.7718,"color":"#111"},{"offset":0.7844,"color":"#111"},{"offset":0.7844,"color":"#fff"},{"offset":0.7907,"color":"#fff"},{"offset":0.7907,"color":"#111"},{"offset":0.8033,"color":"#111"},{"offset":0.8033,"color":"#fff"},{"offset":0.8168,"color":"#fff"},{"offset":0.8168,"color":"#111"},{"offset":0.8294,"color":"#111"},{"offset":0.8294,"color":"#fff"},{"offset":0.8357,"color":"#fff"},{"offset":0.8357,"color":"#111"},{"offset":0.8483,"color":"#111"},{"offset":0.8483,"color":"#fff"},{"offset":0.8618,"color":"#fff"},{"offset":0.8618,"color":"#111"},{"offset":0.8744,"color":"#111"},{"offset":0.8744,"color":"#fff"},{"offset":0.8807,"color":"#fff"},{"offset":0.8807,"color":"#111"},{"offset":0.8933,"color":"#111"},{"offset":0.8933,"color":"#fff"},{"offset":0.9068,"color":"#fff"},{"offset":0.9068,"color":"#111"},{"offset":0.9194,"color":"#111"},{"offset":0.9194,"color":"#fff"},{"offset":0.9257,"color":"#fff"},{"offset":0.9257,"color":"#111"},{"offset":0.9383,"color":"#111"},{"offset":0.9383,"color":"#fff"},{"offset":0.9518,"color":"#fff"},{"offset":0.9518,"color":"#111"},{"offset":0.9644,"color":"#111"},{"offset":0.9644,"color":"#fff"},{"offset":0.9707,"color":"#fff"},{"offset":0.9707,"color":"#111"},{"offset":0.9833,"color":"#111"},{"offset":0.9833,"color":"#fff"},{"offset":1,"color":"#fff"}]}},
"encoding":{"theta":{"field":"s0","type":"quantitative","stack":null,"scale":{"domain":[0,1]}},"theta2":{"field":"s1"}}},
{"transform":[{"filter":"datum.category==='Vitamins'"}],
"mark":{"type":"arc","outerRadius":280,"blend":"lighten","fill":{"gradient":"linear","x1":0,"y1":1,"x2":1.081,"y2":0.096,"stops":[{"offset":0,"color":"#fff"},{"offset":0.0068,"color":"#fff"},{"offset":0.0068,"color":"#111"},{"offset":0.0194,"color":"#111"},{"offset":0.0194,"color":"#fff"},{"offset":0.0257,"color":"#fff"},{"offset":0.0257,"color":"#111"},{"offset":0.0383,"color":"#111"},{"offset":0.0383,"color":"#fff"},{"offset":0.0518,"color":"#fff"},{"offset":0.0518,"color":"#111"},{"offset":0.0644,"color":"#111"},{"offset":0.0644,"color":"#fff"},{"offset":0.0707,"color":"#fff"},{"offset":0.0707,"color":"#111"},{"offset":0.0833,"color":"#111"},{"offset":0.0833,"color":"#fff"},{"offset":0.0968,"color":"#fff"},{"offset":0.0968,"color":"#111"},{"offset":0.1094,"color":"#111"},{"offset":0.1094,"color":"#fff"},{"offset":0.1157,"color":"#fff"},{"offset":0.1157,"color":"#111"},{"offset":0.1283,"color":"#111"},{"offset":0.1283,"color":"#fff"},{"offset":0.1418,"color":"#fff"},{"offset":0.1418,"color":"#111"},{"offset":0.1544,"color":"#111"},{"offset":0.1544,"color":"#fff"},{"offset":0.1607,"color":"#fff"},{"offset":0.1607,"color":"#111"},{"offset":0.1733,"color":"#111"},{"offset":0.1733,"color":"#fff"},{"offset":0.1868,"color":"#fff"},{"offset":0.1868,"color":"#111"},{"offset":0.1994,"color":"#111"},{"offset":0.1994,"color":"#fff"},{"offset":0.2057,"color":"#fff"},{"offset":0.2057,"color":"#111"},{"offset":0.2183,"color":"#111"},{"offset":0.2183,"color":"#fff"},{"offset":0.2318,"color":"#fff"},{"offset":0.2318,"color":"#111"},{"offset":0.2444,"color":"#111"},{"offset":0.2444,"color":"#fff"},{"offset":0.2507,"color":"#fff"},{"offset":0.2507,"color":"#111"},{"offset":0.2633,"color":"#111"},{"offset":0.2633,"color":"#fff"},{"offset":0.2768,"color":"#fff"},{"offset":0.2768,"color":"#111"},{"offset":0.2894,"color":"#111"},{"offset":0.2894,"color":"#fff"},{"offset":0.2957,"color":"#fff"},{"offset":0.2957,"color":"#111"},{"offset":0.3083,"color":"#111"},{"offset":0.3083,"color":"#fff"},{"offset":0.3218,"color":"#fff"},{"offset":0.3218,"color":"#111"},{"offset":0.3344,"color":"#111"},{"offset":0.3344,"color":"#fff"},{"offset":0.3407,"color":"#fff"},{"offset":0.3407,"color":"#111"},{"offset":0.3533,"color":"#111"},{"offset":0.3533,"color":"#fff"},{"offset":0.3668,"color":"#fff"},{"offset":0.3668,"color":"#111"},{"offset":0.3794,"color":"#111"},{"offset":0.3794,"color":"#fff"},{"offset":0.3857,"color":"#fff"},{"offset":0.3857,"color":"#111"},{"offset":0.3983,"color":"#111"},{"offset":0.3983,"color":"#fff"},{"offset":0.4118,"color":"#fff"},{"offset":0.4118,"color":"#111"},{"offset":0.4244,"color":"#111"},{"offset":0.4244,"color":"#fff"},{"offset":0.4307,"color":"#fff"},{"offset":0.4307,"color":"#111"},{"offset":0.4433,"color":"#111"},{"offset":0.4433,"color":"#fff"},{"offset":0.4568,"color":"#fff"},{"offset":0.4568,"color":"#111"},{"offset":0.4694,"color":"#111"},{"offset":0.4694,"color":"#fff"},{"offset":0.4757,"color":"#fff"},{"offset":0.4757,"color":"#111"},{"offset":0.4883,"color":"#111"},{"offset":0.4883,"color":"#fff"},{"offset":0.5018,"color":"#fff"},{"offset":0.5018,"color":"#111"},{"offset":0.5144,"color":"#111"},{"offset":0.5144,"color":"#fff"},{"offset":0.5207,"color":"#fff"},{"offset":0.5207,"color":"#111"},{"offset":0.5333,"color":"#111"},{"offset":0.5333,"color":"#fff"},{"offset":0.5468,"color":"#fff"},{"offset":0.5468,"color":"#111"},{"offset":0.5594,"color":"#111"},{"offset":0.5594,"color":"#fff"},{"offset":0.5657,"color":"#fff"},{"offset":0.5657,"color":"#111"},{"offset":0.5783,"color":"#111"},{"offset":0.5783,"color":"#fff"},{"offset":0.5918,"color":"#fff"},{"offset":0.5918,"color":"#111"},{"offset":0.6044,"color":"#111"},{"offset":0.6044,"color":"#fff"},{"offset":0.6107,"color":"#fff"},{"offset":0.6107,"color":"#111"},{"offset":0.6233,"color":"#111"},{"offset":0.6233,"color":"#fff"},{"offset":0.6368,"color":"#fff"},{"offset":0.6368,"color":"#111"},{"offset":0.6494,"color":"#111"},{"offset":0.6494,"color":"#fff"},{"offset":0.6557,"color":"#fff"},{"offset":0.6557,"color":"#111"},{"offset":0.6683,"color":"#111"},{"offset":0.6683,"color":"#fff"},{"offset":0.6818,"color":"#fff"},{"offset":0.6818,"color":"#111"},{"offset":0.6944,"color":"#111"},{"offset":0.6944,"color":"#fff"},{"offset":0.7007,"color":"#fff"},{"offset":0.7007,"color":"#111"},{"offset":0.7133,"color":"#111"},{"offset":0.7133,"color":"#fff"},{"offset":0.7268,"color":"#fff"},{"offset":0.7268,"color":"#111"},{"offset":0.7394,"color":"#111"},{"offset":0.7394,"color":"#fff"},{"offset":0.7457,"color":"#fff"},{"offset":0.7457,"color":"#111"},{"offset":0.7583,"color":"#111"},{"offset":0.7583,"color":"#fff"},{"offset":0.7718,"color":"#fff"},{"offset":0.7718,"color":"#111"},{"offset":0.7844,"color":"#111"},{"offset":0.7844,"color":"#fff"},{"offset":0.7907,"color":"#fff"},{"offset":0.7907,"color":"#111"},{"offset":0.8033,"color":"#111"},{"offset":0.8033,"color":"#fff"},{"offset":0.8168,"color":"#fff"},{"offset":0.8168,"color":"#111"},{"offset":0.8294,"color":"#111"},{"offset":0.8294,"color":"#fff"},{"offset":0.8357,"color":"#fff"},{"offset":0.8357,"color":"#111"},{"offset":0.8483,"color":"#111"},{"offset":0.8483,"color":"#fff"},{"offset":0.8618,"color":"#fff"},{"offset":0.8618,"color":"#111"},{"offset":0.8744,"color":"#111"},{"offset":0.8744,"color":"#fff"},{"offset":0.8807,"color":"#fff"},{"offset":0.8807,"color":"#111"},{"offset":0.8933,"color":"#111"},{"offset":0.8933,"color":"#fff"},{"offset":0.9068,"color":"#fff"},{"offset":0.9068,"color":"#111"},{"offset":0.9194,"color":"#111"},{"offset":0.9194,"color":"#fff"},{"offset":0.9257,"color":"#fff"},{"offset":0.9257,"color":"#111"},{"offset":0.9383,"color":"#111"},{"offset":0.9383,"color":"#fff"},{"offset":0.9518,"color":"#fff"},{"offset":0.9518,"color":"#111"},{"offset":0.9644,"color":"#111"},{"offset":0.9644,"color":"#fff"},{"offset":0.9707,"color":"#fff"},{"offset":0.9707,"color":"#111"},{"offset":0.9833,"color":"#111"},{"offset":0.9833,"color":"#fff"},{"offset":1,"color":"#fff"}]}},
"encoding":{"theta":{"field":"s0","type":"quantitative","stack":null,"scale":{"domain":[0,1]}},"theta2":{"field":"s1"}}},
{"mark":{"type":"arc","outerRadius":280,"fill":"#fff","fillOpacity":0,"stroke":"#000","strokeWidth":1.5},
"encoding":{"theta":{"field":"s0","type":"quantitative","stack":null,"scale":{"domain":[0,1]}},"theta2":{"field":"s1"}}},
{"transform":[{"filter":"datum.category==='Immunostimulants'"}],"mark":{"type":"text","radius":305,"thetaOffset":0.476,"fontSize":21,"font":"Liberation Sans","fill":"#000"},"encoding":{"theta":{"field":"s0","type":"quantitative","stack":null},"text":{"field":"share","type":"quantitative","format":".0%"}}},
{"transform":[{"filter":"datum.category==='Anti-inflammatory and anti-rheumatic'"}],"mark":{"type":"text","radius":297,"thetaOffset":1.187,"fontSize":21,"font":"Liberation Sans","fill":"#000"},"encoding":{"theta":{"field":"s0","type":"quantitative","stack":null},"text":{"field":"share","type":"quantitative","format":".0%"}}},
{"transform":[{"filter":"datum.category==='Antiviral'"}],"mark":{"type":"text","radius":306,"thetaOffset":1.265,"fontSize":21,"font":"Liberation Sans","fill":"#000"},"encoding":{"theta":{"field":"s0","type":"quantitative","stack":null},"text":{"field":"share","type":"quantitative","format":".0%"}}},
{"transform":[{"filter":"datum.category==='Vitamins'"}],"mark":{"type":"text","radius":322,"thetaOffset":0.143,"fontSize":21,"font":"Liberation Sans","fill":"#000"},"encoding":{"theta":{"field":"s0","type":"quantitative","stack":null},"text":{"field":"share","type":"quantitative","format":".0%"}}},
{"transform":[{"filter":"datum.category==='Immunosuppressants'"}],"mark":{"type":"text","radius":308,"thetaOffset":0.0925,"fontSize":21,"font":"Liberation Sans","fill":"#000"},"encoding":{"theta":{"field":"s0","type":"quantitative","stack":null},"text":{"field":"share","type":"quantitative","format":".0%"}}},
{"transform":[{"filter":"datum.category==='Other drugs'"}],"mark":{"type":"text","radius":305,"thetaOffset":0.578,"fontSize":21,"font":"Liberation Sans","fill":"#000"},"encoding":{"theta":{"field":"s0","type":"quantitative","stack":null},"text":{"field":"share","type":"quantitative","format":".0%"}}}
],
"resolve":{"scale":{"fill":"independent"},"legend":{"fill":"independent"}}
}
